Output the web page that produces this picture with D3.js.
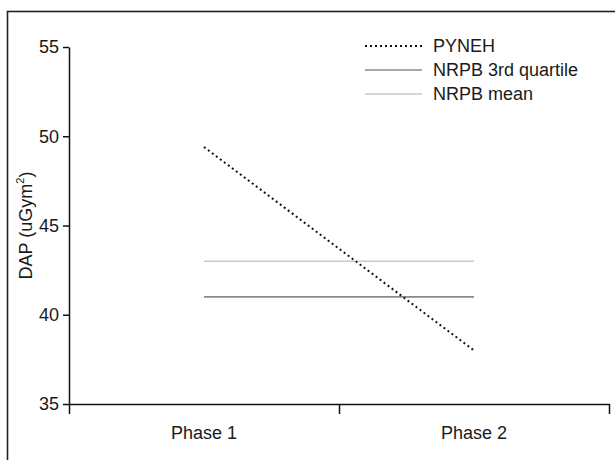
<!DOCTYPE html>
<html>
<head>
<meta charset="utf-8">
<script src="https://cdn.jsdelivr.net/npm/d3@7"></script>
<style>
  body { margin: 0; background: #fff; }
  svg { display: block; font-family: "Liberation Sans", Arial, sans-serif; }
</style>
</head>
<body>
<svg id="chart" width="615" height="460"></svg>
<script>
(() => {
    // Data.
    const phases = ["Phase 1", "Phase 2"];
    const pyneh = [49.4, 38.0];
    const nrpbQuartile = [41.0, 41.0];
    const nrpbMean = [43.0, 43.0];
    const yTicks = [35, 40, 45, 50, 55];

    const series = [
        { name: "PYNEH", values: pyneh, color: "#111", width: 2, dash: "2,3" },
        { name: "NRPB 3rd quartile", values: nrpbQuartile, color: "#8a8a8a", width: 1.6, dash: null },
        { name: "NRPB mean", values: nrpbMean, color: "#cacaca", width: 1.6, dash: null }
    ];

    const FONT_SIZE = 18;
    const TEXT_COLOR = "#1a1a1a";
    const left = 69, right = 609, top = 47, bottom = 404;

    let svg = d3.select("#chart");

    // Outer frame, cropped by the picture edge.
    svg.append("rect")
        .attr("x", 7.5)
        .attr("y", 11.5)
        .attr("width", 800)
        .attr("height", 800)
        .attr("fill", "none")
        .attr("stroke", "#222")
        .attr("stroke-width", 1.6);

    let x = d3.scaleBand().domain(phases).range([left, right]);
    let xEdges = d3.scaleLinear().domain([0, phases.length]).range([left, right]);
    let y = d3.scaleLinear().domain([35, 55]).range([bottom, top]);

    // Y axis.
    let yAxis = svg.append("g")
        .attr("transform", `translate(${left},0)`)
        .call(d3.axisLeft(y).tickValues(yTicks).tickSize(6).tickPadding(4).tickSizeOuter(0));
    yAxis.selectAll("text").attr("font-size", FONT_SIZE).attr("fill", TEXT_COLOR).attr("font-family", null);

    // X axis: ticks at the band edges, labels at the centres.
    let xAxis = svg.append("g")
        .attr("transform", `translate(0,${bottom})`)
        .call(d3.axisBottom(xEdges).tickValues(d3.range(phases.length + 1)).tickFormat("").tickSize(10).tickSizeOuter(0));
    let xLabels = svg.append("g")
        .attr("transform", `translate(0,${bottom})`)
        .call(d3.axisBottom(x).tickSize(0).tickPadding(22));
    xLabels.select(".domain").remove();
    xLabels.selectAll("text").attr("font-size", FONT_SIZE).attr("fill", TEXT_COLOR).attr("font-family", null);

    svg.selectAll(".domain, .tick line").attr("stroke", "#111").attr("stroke-width", 1.5);

    // Y axis title.
    let title = svg.append("text")
        .attr("transform", `translate(26,${(top + bottom) / 2}) rotate(-90)`)
        .attr("text-anchor", "middle")
        .attr("dominant-baseline", "central")
        .attr("font-size", FONT_SIZE)
        .attr("fill", TEXT_COLOR);
    title.append("tspan").text("DAP (uGym");
    title.append("tspan").attr("font-size", 11).attr("baseline-shift", "super").text("2");
    title.append("tspan").text(")");

    // Lines.
    let line = d3.line()
        .x((d, i) => x(phases[i]) + x.bandwidth() / 2)
        .y(d => y(d));

    svg.selectAll("path.series")
        .data(series.slice().reverse())
        .enter()
        .append("path")
        .classed("series", true)
        .attr("d", d => line(d.values))
        .attr("fill", "none")
        .attr("stroke", d => d.color)
        .attr("stroke-width", d => d.width)
        .attr("stroke-dasharray", d => d.dash);

    // Legend.
    let legend = svg.append("g").attr("transform", "translate(365,46)");
    let rows = legend.selectAll("g")
        .data(series)
        .enter()
        .append("g")
        .attr("transform", (d, i) => `translate(0,${i * 24})`);
    rows.append("line")
        .attr("x1", 0)
        .attr("x2", 57)
        .attr("stroke", d => d.color)
        .attr("stroke-width", d => d.width)
        .attr("stroke-dasharray", d => d.dash);
    rows.append("text")
        .attr("x", 68)
        .attr("dy", "0.35em")
        .attr("font-size", FONT_SIZE)
        .attr("fill", TEXT_COLOR)
        .text(d => d.name);
})();
</script>
</body>
</html>
